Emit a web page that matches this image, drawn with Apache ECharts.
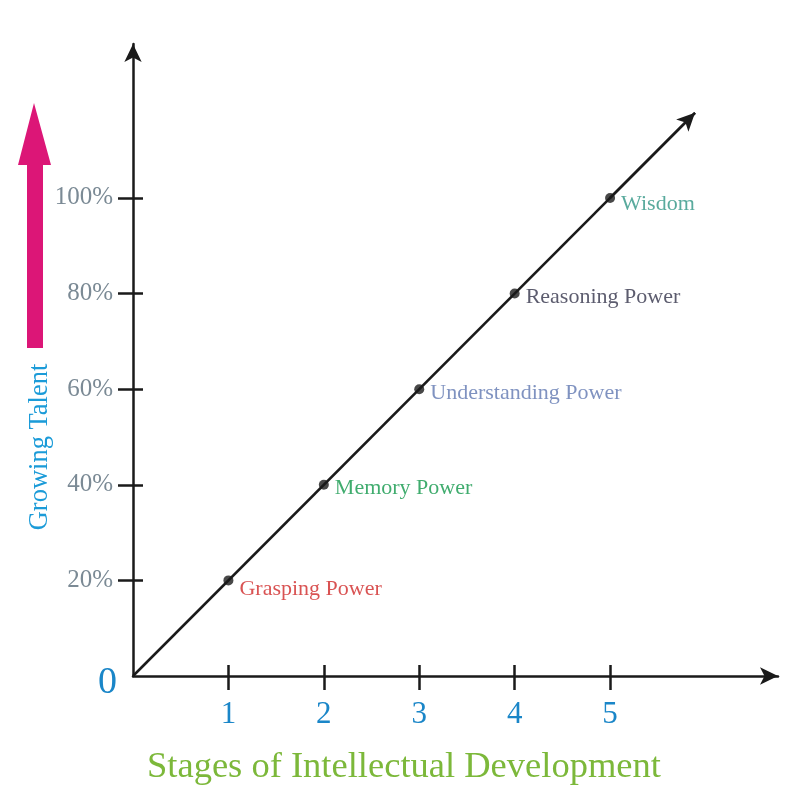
<!DOCTYPE html>
<html>
<head>
<meta charset="utf-8">
<script src="https://cdn.jsdelivr.net/npm/echarts@6/dist/echarts.min.js"></script>
<style>html,body{margin:0;padding:0;background:#fff;}#c{width:789px;height:789px;}</style>
</head>
<body>
<div id="c"></div>
<script>
// ---- data ----
const stages = [1, 2, 3, 4, 5];
const talent = [20, 40, 60, 80, 100];
const stageNames = ['Grasping Power', 'Memory Power', 'Understanding Power', 'Reasoning Power', 'Wisdom'];
const yTickValues = [20, 40, 60, 80, 100];
const yLabelValues = [0, 20, 40, 60, 80, 100];
const xTickValues = [1, 2, 3, 4, 5];
const lineStart = [0, 0];
const lineEnd = [5.89, 117.8];
const xMax = 6.76, yMax = 132.2;

// ---- styling ----
const nameColors = ['#d02828', '#10974a', '#5f77b0', '#33334a', '#2f9585'];
const labelDy = [9, 3, 4, 4, 6];
const serif = 'Liberation Serif';
const chart = echarts.init(document.getElementById('c'));

const axisBaseX = {type: 'value', min: 0, max: xMax, splitLine: {show: false}, position: 'bottom'};
const axisBaseY = {type: 'value', min: 0, max: yMax, splitLine: {show: false}, position: 'left'};

chart.setOption({
  animation: false,
  backgroundColor: '#fff',
  grid: {left: 133, right: 11, top: 44, bottom: 113},
  title: {
    text: 'Stages of Intellectual Development',
    left: 142, top: 744,
    textStyle: {fontFamily: serif, fontWeight: 'normal', fontSize: 36.5, color: '#7cb83a'}
  },
  graphic: [
    {type: 'polygon', shape: {points: [[27,348],[43,348],[43,165],[51,165],[34,103],[18,165],[27,165]]},
     style: {fill: '#dc1677'}},
    {type: 'text', x: 40, y: 447, rotation: Math.PI / 2,
     style: {text: 'Growing Talent', font: '26.5px "Liberation Serif"', fill: '#1b9bd8', align: 'center', verticalAlign: 'middle'}}
  ],
  xAxis: [
    Object.assign({}, axisBaseX, {
      axisLine: {show: true, onZero: false, symbol: ['none', 'arrow'], symbolSize: [13, 18], lineStyle: {color: '#1a1a1a', width: 2.5}},
      axisTick: {show: true, customValues: xTickValues, inside: false, length: 14, lineStyle: {color: '#1a1a1a', width: 2.5}},
      axisLabel: {customValues: xTickValues, margin: 23, fontFamily: serif, fontSize: 31, color: '#1a86c8'}
    }),
    Object.assign({}, axisBaseX, {
      axisLine: {show: false, onZero: false},
      axisTick: {show: true, customValues: xTickValues, inside: true, length: 11, lineStyle: {color: '#1a1a1a', width: 2.5}},
      axisLabel: {show: false}
    })
  ],
  yAxis: [
    Object.assign({}, axisBaseY, {
      axisLine: {show: true, onZero: false, symbol: ['none', 'arrow'], symbolSize: [13, 18], lineStyle: {color: '#1a1a1a', width: 2.5}},
      axisTick: {show: true, customValues: yTickValues, inside: false, length: 15, lineStyle: {color: '#1a1a1a', width: 2.5}},
      axisLabel: {
        customValues: yLabelValues, margin: 20, fontFamily: serif, fontSize: 25, color: '#7b8a95',
        formatter: v => v === 0 ? '{z|0}' : v + '%',
        rich: {z: {fontFamily: serif, fontSize: 38, color: '#1a86c8', padding: [14, -4, 0, 0]}}
      }
    }),
    Object.assign({}, axisBaseY, {
      axisLine: {show: false, onZero: false},
      axisTick: {show: true, customValues: yTickValues, inside: true, length: 10, lineStyle: {color: '#1a1a1a', width: 2.5}},
      axisLabel: {show: false}
    })
  ],
  series: [
    {
      type: 'line', xAxisIndex: 0, yAxisIndex: 0,
      data: [lineStart, lineEnd], symbol: 'none',
      lineStyle: {color: '#1a1a1a', width: 2.5},
      markLine: {
        silent: true, symbol: ['none', 'arrow'], symbolSize: [13, 18],
        label: {show: false},
        lineStyle: {color: '#1a1a1a', width: 2.5, type: 'solid'},
        data: [[{coord: [stages[4], talent[4]]}, {coord: lineEnd}]]
      }
    },
    {
      type: 'scatter', xAxisIndex: 0, yAxisIndex: 0,
      symbolSize: 10,
      itemStyle: {color: '#1a1a1a'},
      data: stages.map((s, i) => ({
        value: [s, talent[i]],
        label: {show: true, position: 'right', distance: 6, offset: [0, labelDy[i]], formatter: stageNames[i],
                fontFamily: serif, fontSize: 22, color: nameColors[i]}
      }))
    }
  ]
});
</script>
</body>
</html>
